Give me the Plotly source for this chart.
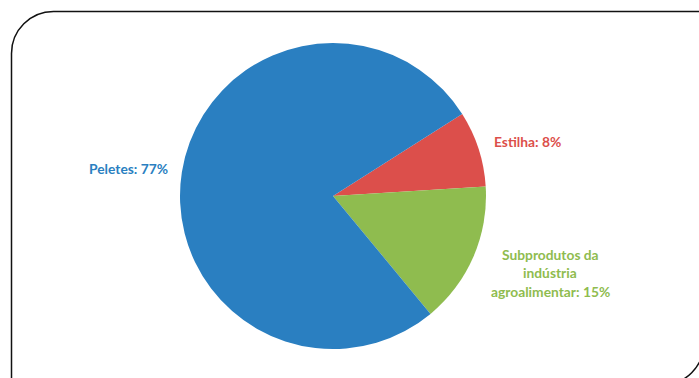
import plotly.graph_objects as go

labels = ["Estilha", "Subprodutos da indústria agroalimentar", "Peletes"]
values = [8, 15, 77]
colors = ["#dc4f4b", "#8fbc4f", "#2a7fc1"]
label_lines = [["Estilha: 8%"], ["Subprodutos da", "indústria", "agroalimentar: 15%"], ["Peletes: 77%"]]

W, H = 699, 378
cx, cy, r = 333, 196, 153

def px(x):
    return x / W

def py(y):
    return 1 - y / H

fig = go.Figure(go.Pie(
    labels=labels, values=values, sort=False, direction="clockwise", rotation=57.6,
    marker=dict(colors=colors, line=dict(width=0)),
    textinfo="none", hoverinfo="label+percent", showlegend=False,
    domain=dict(x=[px(cx - r), px(cx + r)], y=[py(cy + r), py(cy - r)]),
))

# label positions (pixels): centre x, first line y
label_pos = [(527, 142), (550, 254), (128, 168)]
line_h = 18.5
for (lx, ly), lines, col in zip(label_pos, label_lines, colors):
    for i, t in enumerate(lines):
        fig.add_annotation(x=px(lx), y=py(ly + i * line_h), xref="paper", yref="paper",
                           text="<b>" + t + "</b>", showarrow=False, xanchor="center", yanchor="middle",
                           font=dict(family="Lato", size=13.8, color=col))

# frame: rounded top-left and bottom-right corners
L, T, R, B, rc = 11.5, 11.5, 704, 385, 42
k = 0.5523 * rc
path = (f"M {px(L)},{py(B+5)} L {px(L)},{py(T+rc)} "
        f"C {px(L)},{py(T+rc-k)} {px(L+rc-k)},{py(T)} {px(L+rc)},{py(T)} "
        f"L {px(R+5)},{py(T)} M {px(R)},{py(T-5)} L {px(R)},{py(B-rc)} "
        f"C {px(R)},{py(B-rc+k)} {px(R-rc+k)},{py(B)} {px(R-rc)},{py(B)} L {px(L-5)},{py(B)}")
fig.add_shape(type="path", path=path, xref="paper", yref="paper",
              line=dict(color="#111111", width=1.5))

fig.update_layout(width=W, height=H, margin=dict(l=0, r=0, t=0, b=0),
                  paper_bgcolor="white", plot_bgcolor="white")
fig.write_html("out.html", config={"displayModeBar": False},
               post_script="document.body.style.margin='0';document.body.style.overflow='hidden';")
